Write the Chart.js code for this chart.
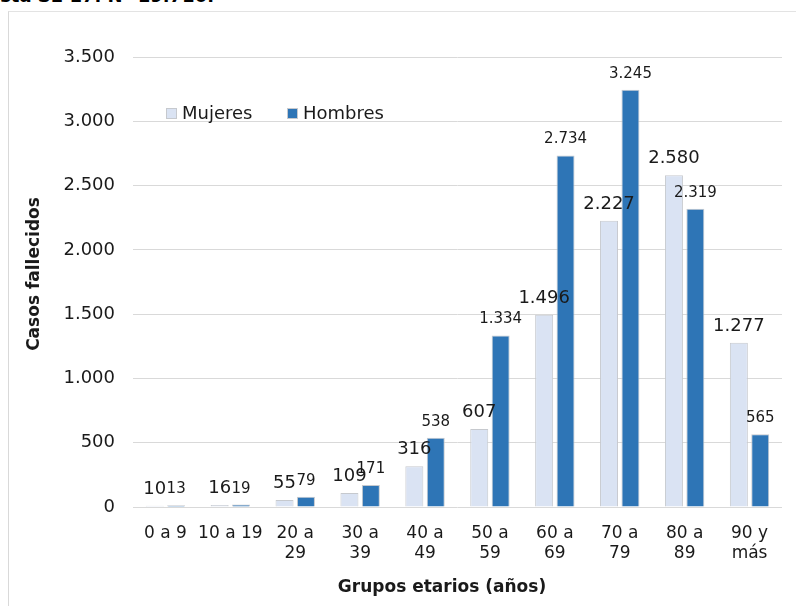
<!DOCTYPE html>
<html>
<head>
<meta charset="utf-8">
<script src="https://cdn.jsdelivr.net/npm/chart.js@4.4.0/dist/chart.umd.min.js"></script>
<style>
  html, body { margin: 0; padding: 0; background: #fff; }
  body { width: 796px; height: 606px; position: relative; overflow: hidden; font-family: "DejaVu Sans", sans-serif; }
  #titulo { position: absolute; right: 582px; top: -15px; font-weight: bold; font-size: 18px; white-space: nowrap; color: #000; }
  #marco { position: absolute; left: 8px; top: 11px; right: -2px; bottom: -2px; border-left: 1px solid #d9d9d9; border-top: 1px solid #e3e3e3; }
  #grafico { position: absolute; left: 0; top: 0; }
</style>
</head>
<body>
<div id="titulo">Fallecidos por grupo etario y sexo hasta SE 17. N=19.710.</div>
<div id="marco"></div>
<canvas id="grafico" width="796" height="606"></canvas>
<script>
// datos
const grupos = [['0 a 9'], ['10 a 19'], ['20 a', '29'], ['30 a', '39'], ['40 a', '49'],
                ['50 a', '59'], ['60 a', '69'], ['70 a', '79'], ['80 a', '89'], ['90 y', 'más']];
const mujeres = [10, 16, 55, 109, 316, 607, 1496, 2227, 2580, 1277];
const hombres = [13, 19, 79, 171, 538, 1334, 2734, 3245, 2319, 565];
const yMax = 3500;
const yPaso = 500;

const fuente = '"DejaVu Sans", sans-serif';
const colorTexto = '#1a1a1a';

function miles(v) {
    return String(v).replace(/\B(?=(\d{3})+(?!\d))/g, '.');
}

// etiquetas de valor sobre cada barra
const fuentesEtiqueta = ['18px ' + fuente, '15px ' + fuente];
const etiquetas = {
    id: 'etiquetas',
    afterDatasetsDraw(chart) {
        const ctx = chart.ctx;
        ctx.save();
        ctx.textAlign = 'center';
        ctx.textBaseline = 'alphabetic';
        ctx.fillStyle = colorTexto;
        [1, 0].forEach(i => {
            ctx.font = fuentesEtiqueta[i];
            chart.getDatasetMeta(i).data.forEach((bar, j) => {
                ctx.fillText(miles(chart.data.datasets[i].data[j]), bar.x, bar.y - 12);
            });
        });
        ctx.restore();
    }
};

// leyenda dentro del area
const leyenda = {
    id: 'leyenda',
    afterDraw(chart) {
        const ctx = chart.ctx;
        const xs = [166, 287];
        ctx.save();
        chart.data.datasets.forEach((ds, i) => {
            const x = xs[i], y = 108;
            ctx.fillStyle = ds.backgroundColor;
            ctx.fillRect(x, y, 11, 11);
            ctx.strokeStyle = ds.borderColor;
            ctx.lineWidth = 1;
            ctx.strokeRect(x + 0.5, y + 0.5, 10, 10);
            ctx.fillStyle = colorTexto;
            ctx.font = '18px ' + fuente;
            ctx.textAlign = 'left';
            ctx.textBaseline = 'alphabetic';
            ctx.fillText(ds.label, x + 16, 119);
        });
        ctx.restore();
    }
};

// titulos de los ejes
const titulosEjes = {
    id: 'titulosEjes',
    afterDraw(chart) {
        const ctx = chart.ctx;
        ctx.save();
        ctx.fillStyle = colorTexto;
        ctx.font = 'bold 17px ' + fuente;
        ctx.textAlign = 'center';
        ctx.textBaseline = 'middle';
        ctx.fillText('Grupos etarios (años)', 442, 588);
        ctx.translate(35, 274);
        ctx.rotate(-Math.PI / 2);
        ctx.fillText('Casos fallecidos', 0, 0);
        ctx.restore();
    }
};

const data = {
    labels: grupos,
    datasets: [{
        label: 'Mujeres',
        data: mujeres,
        backgroundColor: '#dae3f3',
        borderColor: '#c6c9ce',
        borderWidth: 1,
        categoryPercentage: 0.66,
        barPercentage: 0.84
    }, {
        label: 'Hombres',
        data: hombres,
        backgroundColor: '#2e75b6',
        borderColor: '#c6c9ce',
        borderWidth: 1,
        categoryPercentage: 0.66,
        barPercentage: 0.84
    }]
};

const config = {
    type: 'bar',
    data,
    options: {
        responsive: false,
        animation: false,
        layout: { padding: { top: 57, right: 14, left: 0, bottom: 0 } },
        plugins: {
            legend: { display: false },
            tooltip: { enabled: false }
        },
        scales: {
            x: {
                grid: { display: false },
                border: { display: false },
                ticks: {
                    color: colorTexto,
                    font: { family: fuente, size: 17 },
                    padding: 8,
                    maxRotation: 0,
                    autoSkip: false
                },
                afterFit(s) { s.height = 99; }
            },
            y: {
                min: 0,
                max: yMax,
                grid: { color: '#d9d9d9', drawTicks: false },
                border: { display: false },
                ticks: {
                    stepSize: yPaso,
                    color: colorTexto,
                    font: { family: fuente, size: 18 },
                    padding: 18,
                    callback: v => miles(v)
                },
                afterFit(s) { s.width = 133; }
            }
        }
    },
    plugins: [etiquetas, leyenda, titulosEjes]
};

const myChart = new Chart(document.getElementById('grafico'), config);
</script>
</body>
</html>
